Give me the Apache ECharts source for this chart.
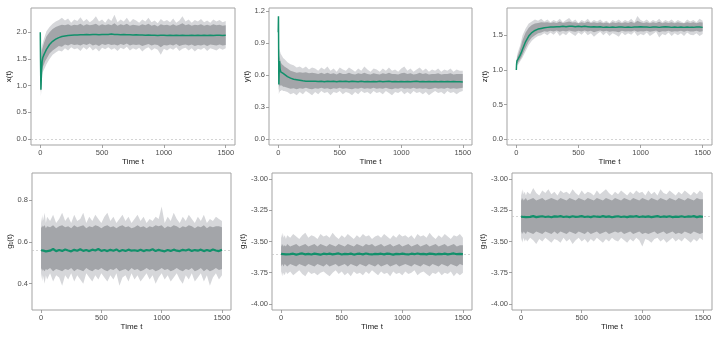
<!DOCTYPE html>
<html>
<head>
<meta charset="utf-8">
<script src="https://cdn.jsdelivr.net/npm/echarts@6/dist/echarts.min.js"></script>
<style>
html, body { margin: 0; padding: 0; background: #fff; }
#chart { width: 722px; height: 338px; }
</style>
</head>
<body>
<div id="chart"></div>
<script>
// time grid shared by every panel
const timeT = [0, 2, 5, 10, 15, 20, 30, 40,
  50, 75, 100, 125, 150, 175, 200, 225, 250, 275,
  300, 325, 350, 375, 400, 425, 450, 475, 500, 525,
  550, 575, 600, 625, 650, 675, 700, 725, 750, 775,
  800, 825, 850, 875, 900, 925, 950, 975, 1000, 1025,
  1050, 1075, 1100, 1125, 1150, 1175, 1200, 1225, 1250, 1275,
  1300, 1325, 1350, 1375, 1400, 1425, 1450, 1475, 1500]
const timeTicks = [0, 500, 1000, 1500]

// x(t)
const xMean = [2.0, 1.5, 0.92, 1.25, 1.45, 1.52, 1.58, 1.63,
  1.68, 1.77, 1.83, 1.87, 1.90, 1.92, 1.93, 1.94, 1.945, 1.95,
  1.95, 1.955, 1.955, 1.96, 1.955, 1.96, 1.96, 1.955, 1.96, 1.96,
  1.96, 1.965, 1.96, 1.96, 1.955, 1.96, 1.955, 1.955, 1.95, 1.955,
  1.95, 1.95, 1.945, 1.95, 1.945, 1.945, 1.94, 1.945, 1.945, 1.94,
  1.945, 1.94, 1.945, 1.94, 1.945, 1.94, 1.94, 1.945, 1.94, 1.945,
  1.94, 1.945, 1.94, 1.945, 1.94, 1.945, 1.945, 1.94, 1.945]
const xHi = [2.0, 1.8, 1.65, 1.7, 1.76, 1.8, 1.88, 1.95,
  2.02, 2.1, 2.16, 2.2, 2.23, 2.27, 2.22, 2.26, 2.18, 2.24,
  2.21, 2.28, 2.2, 2.25, 2.19, 2.23, 2.3, 2.2, 2.24, 2.18,
  2.26, 2.21, 2.33, 2.19, 2.24, 2.2, 2.27, 2.19, 2.25, 2.22,
  2.18, 2.24, 2.2, 2.27, 2.19, 2.22, 2.17, 2.25, 2.2, 2.23,
  2.19, 2.26, 2.18, 2.22, 2.3, 2.2, 2.24, 2.18, 2.23, 2.2,
  2.25, 2.19, 2.22, 2.18, 2.24, 2.2, 2.23, 2.19, 2.21]
const xLo = [1.98, 1.3, 0.8, 0.95, 1.2, 1.25, 1.3, 1.35,
  1.4, 1.5, 1.58, 1.62, 1.66, 1.64, 1.7, 1.66, 1.72, 1.68,
  1.7, 1.65, 1.72, 1.67, 1.73, 1.66, 1.7, 1.64, 1.71, 1.68,
  1.72, 1.67, 1.7, 1.65, 1.71, 1.68, 1.73, 1.66, 1.7, 1.67,
  1.71, 1.64, 1.69, 1.72, 1.66, 1.7, 1.67, 1.58, 1.69, 1.66,
  1.7, 1.67, 1.72, 1.65, 1.69, 1.71, 1.66, 1.7, 1.64, 1.69,
  1.67, 1.71, 1.65, 1.7, 1.68, 1.66, 1.7, 1.67, 1.7]
const xHiCore = [2.0, 1.7, 1.45, 1.6, 1.68, 1.72, 1.8, 1.86,
  1.92, 2.0, 2.06, 2.1, 2.12, 2.14, 2.13, 2.15, 2.12, 2.14,
  2.13, 2.16, 2.12, 2.15, 2.13, 2.14, 2.16, 2.12, 2.15, 2.13,
  2.15, 2.13, 2.17, 2.12, 2.15, 2.13, 2.16, 2.12, 2.14, 2.13,
  2.12, 2.15, 2.13, 2.16, 2.12, 2.14, 2.11, 2.15, 2.13, 2.14,
  2.12, 2.15, 2.12, 2.14, 2.17, 2.13, 2.15, 2.12, 2.14, 2.13,
  2.15, 2.12, 2.14, 2.12, 2.15, 2.13, 2.14, 2.12, 2.13]
const xLoCore = [1.99, 1.4, 0.88, 1.05, 1.3, 1.35, 1.4, 1.46,
  1.5, 1.6, 1.66, 1.7, 1.74, 1.73, 1.77, 1.75, 1.78, 1.76,
  1.77, 1.75, 1.78, 1.76, 1.79, 1.75, 1.77, 1.74, 1.78, 1.76,
  1.78, 1.76, 1.77, 1.75, 1.78, 1.76, 1.79, 1.75, 1.77, 1.76,
  1.77, 1.74, 1.76, 1.78, 1.75, 1.77, 1.76, 1.72, 1.76, 1.75,
  1.77, 1.75, 1.78, 1.74, 1.76, 1.77, 1.75, 1.77, 1.74, 1.76,
  1.75, 1.77, 1.74, 1.77, 1.76, 1.75, 1.77, 1.75, 1.76]

// y(t)
const yMean = [1.0, 1.15, 0.51, 0.73, 0.66, 0.63, 0.63, 0.615,
  0.605, 0.585, 0.57, 0.56, 0.555, 0.55, 0.545, 0.542, 0.54, 0.54,
  0.54, 0.538, 0.54, 0.537, 0.54, 0.538, 0.54, 0.536, 0.54, 0.538,
  0.54, 0.537, 0.54, 0.538, 0.536, 0.54, 0.537, 0.539, 0.536, 0.538,
  0.537, 0.54, 0.536, 0.538, 0.54, 0.537, 0.539, 0.536, 0.538, 0.537,
  0.539, 0.536, 0.538, 0.54, 0.537, 0.538, 0.536, 0.539, 0.537, 0.538,
  0.536, 0.538, 0.537, 0.539, 0.536, 0.538, 0.537, 0.536, 0.535]
const yHi = [1.02, 1.16, 0.75, 0.85, 0.82, 0.8, 0.78, 0.76,
  0.75, 0.72, 0.7, 0.69, 0.67, 0.68, 0.66, 0.68, 0.65, 0.67,
  0.66, 0.64, 0.67, 0.65, 0.68, 0.64, 0.66, 0.63, 0.67, 0.65,
  0.64, 0.67, 0.65, 0.63, 0.66, 0.64, 0.68, 0.65, 0.63, 0.66,
  0.65, 0.63, 0.66, 0.64, 0.67, 0.64, 0.65, 0.63, 0.66, 0.68,
  0.64, 0.66, 0.63, 0.65, 0.67, 0.64, 0.66, 0.63, 0.65, 0.64,
  0.66, 0.63, 0.65, 0.64, 0.66, 0.63, 0.65, 0.64, 0.64]
const yLo = [0.99, 1.0, 0.42, 0.44, 0.45, 0.45, 0.46, 0.45,
  0.45, 0.44, 0.42, 0.43, 0.41, 0.44, 0.42, 0.45, 0.43, 0.41,
  0.44, 0.42, 0.45, 0.43, 0.44, 0.41, 0.44, 0.43, 0.45, 0.42,
  0.44, 0.43, 0.41, 0.44, 0.42, 0.45, 0.43, 0.44, 0.42, 0.45,
  0.43, 0.44, 0.42, 0.45, 0.43, 0.41, 0.44, 0.43, 0.45, 0.42,
  0.44, 0.42, 0.45, 0.43, 0.44, 0.42, 0.44, 0.41, 0.43, 0.45,
  0.43, 0.44, 0.42, 0.45, 0.43, 0.44, 0.42, 0.44, 0.45]
const yHiCore = [1.01, 1.15, 0.65, 0.78, 0.75, 0.72, 0.7, 0.69,
  0.68, 0.66, 0.64, 0.63, 0.62, 0.625, 0.62, 0.625, 0.615, 0.62,
  0.615, 0.61, 0.62, 0.61, 0.62, 0.61, 0.615, 0.605, 0.62, 0.61,
  0.61, 0.62, 0.61, 0.605, 0.615, 0.61, 0.62, 0.61, 0.605, 0.615,
  0.61, 0.605, 0.615, 0.61, 0.62, 0.61, 0.61, 0.605, 0.615, 0.62,
  0.61, 0.615, 0.605, 0.61, 0.62, 0.61, 0.615, 0.605, 0.61, 0.61,
  0.615, 0.605, 0.61, 0.61, 0.615, 0.605, 0.61, 0.61, 0.61]
const yLoCore = [1.0, 1.05, 0.46, 0.5, 0.5, 0.5, 0.5, 0.49,
  0.49, 0.48, 0.47, 0.475, 0.465, 0.475, 0.47, 0.48, 0.47, 0.465,
  0.475, 0.47, 0.48, 0.47, 0.475, 0.465, 0.475, 0.47, 0.48, 0.47,
  0.475, 0.47, 0.465, 0.475, 0.47, 0.48, 0.47, 0.475, 0.47, 0.48,
  0.47, 0.475, 0.47, 0.48, 0.47, 0.465, 0.475, 0.47, 0.48, 0.47,
  0.475, 0.47, 0.48, 0.47, 0.475, 0.47, 0.475, 0.465, 0.47, 0.48,
  0.47, 0.475, 0.47, 0.48, 0.47, 0.475, 0.47, 0.475, 0.48]

// z(t)
const zMean = [1.0, 1.08, 1.13, 1.15, 1.16, 1.17, 1.21, 1.25,
  1.3, 1.41, 1.49, 1.54, 1.57, 1.59, 1.6, 1.61, 1.615, 1.62,
  1.62, 1.625, 1.625, 1.63, 1.625, 1.63, 1.63, 1.625, 1.63, 1.625,
  1.63, 1.625, 1.62, 1.625, 1.62, 1.625, 1.615, 1.62, 1.615, 1.62,
  1.615, 1.62, 1.62, 1.615, 1.62, 1.615, 1.62, 1.62, 1.625, 1.62,
  1.62, 1.615, 1.62, 1.62, 1.615, 1.62, 1.625, 1.62, 1.615, 1.62,
  1.615, 1.62, 1.615, 1.62, 1.615, 1.615, 1.62, 1.62, 1.615]
const zHi = [1.0, 1.12, 1.2, 1.24, 1.27, 1.3, 1.35, 1.42,
  1.5, 1.6, 1.67, 1.7, 1.73, 1.71, 1.74, 1.7, 1.73, 1.69,
  1.72, 1.7, 1.74, 1.69, 1.72, 1.75, 1.7, 1.73, 1.68, 1.72,
  1.7, 1.74, 1.69, 1.72, 1.7, 1.73, 1.69, 1.71, 1.68, 1.72,
  1.7, 1.73, 1.69, 1.72, 1.7, 1.74, 1.69, 1.78, 1.72, 1.7,
  1.73, 1.69, 1.72, 1.7, 1.74, 1.69, 1.72, 1.7, 1.73, 1.69,
  1.72, 1.7, 1.68, 1.73, 1.7, 1.72, 1.69, 1.74, 1.71]
const zLo = [1.0, 1.04, 1.06, 1.07, 1.08, 1.09, 1.12, 1.15,
  1.18, 1.27, 1.36, 1.42, 1.46, 1.49, 1.5, 1.53, 1.5, 1.54,
  1.51, 1.55, 1.49, 1.53, 1.5, 1.55, 1.52, 1.49, 1.54, 1.51,
  1.55, 1.5, 1.53, 1.48, 1.52, 1.55, 1.5, 1.54, 1.49, 1.53,
  1.51, 1.48, 1.54, 1.5, 1.53, 1.51, 1.55, 1.49, 1.52, 1.5,
  1.54, 1.49, 1.52, 1.55, 1.47, 1.52, 1.5, 1.54, 1.49, 1.53,
  1.5, 1.53, 1.49, 1.54, 1.51, 1.5, 1.53, 1.49, 1.52]
const zHiCore = [1.0, 1.1, 1.17, 1.2, 1.22, 1.25, 1.3, 1.36,
  1.43, 1.54, 1.61, 1.65, 1.67, 1.68, 1.69, 1.685, 1.69, 1.68,
  1.69, 1.68, 1.7, 1.68, 1.69, 1.7, 1.685, 1.69, 1.675, 1.69,
  1.68, 1.7, 1.68, 1.69, 1.68, 1.69, 1.675, 1.685, 1.67, 1.69,
  1.68, 1.69, 1.675, 1.69, 1.68, 1.695, 1.675, 1.71, 1.69, 1.68,
  1.69, 1.675, 1.69, 1.68, 1.695, 1.675, 1.69, 1.68, 1.69, 1.675,
  1.69, 1.68, 1.675, 1.69, 1.68, 1.69, 1.675, 1.69, 1.685]
const zLoCore = [1.0, 1.06, 1.09, 1.1, 1.11, 1.12, 1.15, 1.18,
  1.22, 1.32, 1.41, 1.47, 1.5, 1.53, 1.54, 1.56, 1.55, 1.565,
  1.555, 1.57, 1.55, 1.565, 1.555, 1.57, 1.56, 1.55, 1.565, 1.555,
  1.57, 1.555, 1.565, 1.545, 1.56, 1.57, 1.555, 1.565, 1.55, 1.56,
  1.555, 1.545, 1.565, 1.555, 1.56, 1.555, 1.57, 1.55, 1.56, 1.555,
  1.565, 1.55, 1.56, 1.57, 1.545, 1.56, 1.555, 1.565, 1.55, 1.56,
  1.555, 1.565, 1.55, 1.565, 1.555, 1.555, 1.565, 1.55, 1.56]

// g1(t)
const g1Mean = [0.56, 0.555, 0.562, 0.556, 0.565, 0.558, 0.562, 0.555,
  0.563, 0.558, 0.566, 0.556, 0.561, 0.557, 0.564, 0.559, 0.555, 0.562,
  0.558, 0.565, 0.557, 0.561, 0.556, 0.563, 0.559, 0.566, 0.557, 0.561,
  0.556, 0.562, 0.558, 0.564, 0.555, 0.561, 0.557, 0.563, 0.558, 0.56,
  0.557, 0.563, 0.556, 0.561, 0.559, 0.565, 0.556, 0.562, 0.558, 0.555,
  0.561, 0.557, 0.563, 0.558, 0.556, 0.562, 0.559, 0.564, 0.557, 0.561,
  0.558, 0.563, 0.556, 0.561, 0.557, 0.564, 0.559, 0.556, 0.562]
const g1Hi = [0.7, 0.72, 0.69, 0.73, 0.7, 0.71, 0.74, 0.69,
  0.72, 0.7, 0.73, 0.69, 0.71, 0.74, 0.7, 0.72, 0.69, 0.73,
  0.7, 0.71, 0.74, 0.69, 0.72, 0.7, 0.73, 0.71, 0.69, 0.72,
  0.74, 0.7, 0.72, 0.69, 0.71, 0.73, 0.7, 0.72, 0.69, 0.71,
  0.73, 0.7, 0.72, 0.69, 0.71, 0.7, 0.72, 0.71, 0.77, 0.69,
  0.72, 0.7, 0.74, 0.71, 0.69, 0.72, 0.7, 0.73, 0.71, 0.69,
  0.72, 0.7, 0.73, 0.69, 0.71, 0.7, 0.72, 0.71, 0.7]
const g1Lo = [0.44, 0.42, 0.45, 0.41, 0.44, 0.43, 0.4, 0.44,
  0.42, 0.45, 0.41, 0.44, 0.43, 0.39, 0.44, 0.42, 0.45, 0.41,
  0.44, 0.42, 0.4, 0.45, 0.43, 0.41, 0.44, 0.42, 0.45, 0.43,
  0.41, 0.44, 0.42, 0.45, 0.39, 0.43, 0.44, 0.41, 0.45, 0.42,
  0.44, 0.41, 0.43, 0.45, 0.42, 0.44, 0.4, 0.43, 0.45, 0.42,
  0.44, 0.41, 0.43, 0.45, 0.42, 0.4, 0.44, 0.42, 0.45, 0.41,
  0.43, 0.45, 0.41, 0.44, 0.39, 0.43, 0.45, 0.42, 0.44]
const g1HiCore = [0.67, 0.675, 0.665, 0.68, 0.67, 0.675, 0.68, 0.665,
  0.675, 0.67, 0.68, 0.665, 0.675, 0.68, 0.67, 0.675, 0.665, 0.68,
  0.67, 0.675, 0.68, 0.665, 0.675, 0.67, 0.68, 0.675, 0.665, 0.675,
  0.68, 0.67, 0.675, 0.665, 0.675, 0.68, 0.67, 0.675, 0.665, 0.67,
  0.68, 0.67, 0.675, 0.665, 0.675, 0.67, 0.68, 0.675, 0.68, 0.665,
  0.675, 0.67, 0.68, 0.675, 0.665, 0.675, 0.67, 0.68, 0.675, 0.665,
  0.675, 0.67, 0.68, 0.665, 0.675, 0.67, 0.675, 0.675, 0.67]
const g1LoCore = [0.47, 0.465, 0.475, 0.46, 0.47, 0.465, 0.46, 0.47,
  0.465, 0.475, 0.46, 0.47, 0.465, 0.46, 0.47, 0.465, 0.475, 0.46,
  0.47, 0.465, 0.46, 0.475, 0.465, 0.46, 0.47, 0.465, 0.475, 0.465,
  0.46, 0.47, 0.465, 0.475, 0.46, 0.465, 0.47, 0.46, 0.475, 0.465,
  0.47, 0.46, 0.465, 0.475, 0.465, 0.47, 0.46, 0.465, 0.475, 0.465,
  0.47, 0.46, 0.465, 0.475, 0.465, 0.46, 0.47, 0.465, 0.475, 0.46,
  0.465, 0.475, 0.46, 0.47, 0.46, 0.465, 0.475, 0.465, 0.47]

// g2(t)
const g2Mean = [-3.6, -3.605, -3.598, -3.603, -3.596, -3.602, -3.599, -3.604,
  -3.597, -3.602, -3.598, -3.605, -3.6, -3.596, -3.603, -3.599, -3.604, -3.597,
  -3.601, -3.606, -3.598, -3.602, -3.597, -3.603, -3.6, -3.596, -3.604, -3.599,
  -3.602, -3.597, -3.605, -3.6, -3.598, -3.603, -3.596, -3.601, -3.604, -3.599,
  -3.602, -3.598, -3.603, -3.597, -3.6, -3.605, -3.599, -3.602, -3.597, -3.601,
  -3.604, -3.598, -3.602, -3.596, -3.601, -3.599, -3.603, -3.597, -3.6, -3.604,
  -3.599, -3.602, -3.597, -3.603, -3.6, -3.596, -3.602, -3.599, -3.601]
const g2Hi = [-3.46, -3.44, -3.47, -3.45, -3.43, -3.47, -3.45, -3.48,
  -3.45, -3.47, -3.44, -3.46, -3.48, -3.45, -3.43, -3.47, -3.45, -3.46,
  -3.48, -3.44, -3.46, -3.45, -3.47, -3.43, -3.46, -3.48, -3.45, -3.47,
  -3.44, -3.46, -3.48, -3.45, -3.47, -3.44, -3.46, -3.45, -3.48, -3.46,
  -3.45, -3.47, -3.44, -3.46, -3.48, -3.45, -3.47, -3.44, -3.46, -3.45,
  -3.47, -3.45, -3.48, -3.44, -3.46, -3.45, -3.47, -3.43, -3.46, -3.48,
  -3.45, -3.47, -3.44, -3.46, -3.48, -3.45, -3.46, -3.44, -3.47]
const g2Lo = [-3.75, -3.77, -3.74, -3.76, -3.78, -3.75, -3.77, -3.74,
  -3.76, -3.74, -3.77, -3.75, -3.73, -3.76, -3.78, -3.74, -3.76, -3.75,
  -3.77, -3.75, -3.74, -3.76, -3.78, -3.75, -3.73, -3.76, -3.74, -3.77,
  -3.75, -3.78, -3.74, -3.76, -3.75, -3.77, -3.74, -3.76, -3.73, -3.75,
  -3.77, -3.74, -3.76, -3.75, -3.78, -3.74, -3.76, -3.75, -3.77, -3.74,
  -3.76, -3.75, -3.73, -3.77, -3.75, -3.74, -3.76, -3.78, -3.75, -3.76,
  -3.74, -3.77, -3.75, -3.76, -3.74, -3.78, -3.75, -3.77, -3.75]
const g2HiCore = [-3.53, -3.52, -3.54, -3.53, -3.52, -3.54, -3.53, -3.54,
  -3.52, -3.54, -3.53, -3.52, -3.54, -3.53, -3.52, -3.54, -3.53, -3.52,
  -3.54, -3.52, -3.53, -3.54, -3.52, -3.53, -3.54, -3.52, -3.53, -3.54,
  -3.52, -3.53, -3.54, -3.52, -3.53, -3.54, -3.52, -3.53, -3.52, -3.54,
  -3.53, -3.52, -3.54, -3.53, -3.52, -3.54, -3.53, -3.52, -3.54, -3.53,
  -3.52, -3.54, -3.53, -3.52, -3.54, -3.53, -3.52, -3.54, -3.53, -3.52,
  -3.54, -3.53, -3.52, -3.54, -3.53, -3.52, -3.54, -3.53, -3.53]
const g2LoCore = [-3.68, -3.69, -3.7, -3.68, -3.69, -3.7, -3.68, -3.69,
  -3.7, -3.68, -3.69, -3.7, -3.68, -3.69, -3.7, -3.68, -3.69, -3.7,
  -3.68, -3.69, -3.7, -3.68, -3.7, -3.69, -3.68, -3.7, -3.69, -3.68,
  -3.7, -3.68, -3.69, -3.7, -3.68, -3.69, -3.7, -3.68, -3.69, -3.7,
  -3.68, -3.7, -3.69, -3.68, -3.7, -3.69, -3.68, -3.7, -3.69, -3.68,
  -3.69, -3.7, -3.68, -3.69, -3.7, -3.68, -3.69, -3.7, -3.68, -3.69,
  -3.7, -3.68, -3.69, -3.7, -3.68, -3.69, -3.7, -3.68, -3.69]

// g3(t)
const g3Mean = [-3.3, -3.304, -3.297, -3.302, -3.296, -3.303, -3.299, -3.305,
  -3.298, -3.302, -3.296, -3.304, -3.3, -3.297, -3.303, -3.299, -3.305, -3.298,
  -3.301, -3.296, -3.303, -3.299, -3.304, -3.297, -3.302, -3.3, -3.296, -3.303,
  -3.299, -3.304, -3.297, -3.301, -3.303, -3.296, -3.302, -3.298, -3.305, -3.3,
  -3.297, -3.303, -3.299, -3.304, -3.298, -3.301, -3.296, -3.303, -3.299, -3.302,
  -3.298, -3.304, -3.3, -3.296, -3.303, -3.299, -3.302, -3.297, -3.304, -3.3,
  -3.302, -3.297, -3.303, -3.299, -3.301, -3.296, -3.304, -3.298, -3.302]
const g3Hi = [-3.12, -3.09, -3.13, -3.1, -3.08, -3.12, -3.1, -3.13,
  -3.1, -3.12, -3.07, -3.11, -3.13, -3.09, -3.11, -3.08, -3.12, -3.1,
  -3.13, -3.09, -3.11, -3.1, -3.12, -3.08, -3.11, -3.13, -3.09, -3.12,
  -3.1, -3.11, -3.13, -3.09, -3.12, -3.1, -3.08, -3.11, -3.13, -3.1,
  -3.12, -3.09, -3.11, -3.13, -3.1, -3.12, -3.09, -3.11, -3.1, -3.13,
  -3.09, -3.12, -3.1, -3.13, -3.08, -3.11, -3.12, -3.09, -3.11, -3.13,
  -3.1, -3.12, -3.09, -3.11, -3.13, -3.1, -3.12, -3.09, -3.11]
const g3Lo = [-3.48, -3.5, -3.47, -3.51, -3.49, -3.47, -3.5, -3.48,
  -3.5, -3.47, -3.49, -3.52, -3.48, -3.5, -3.47, -3.49, -3.51, -3.48,
  -3.49, -3.51, -3.47, -3.5, -3.48, -3.52, -3.49, -3.47, -3.5, -3.48,
  -3.51, -3.48, -3.5, -3.47, -3.49, -3.51, -3.48, -3.5, -3.47, -3.49,
  -3.5, -3.47, -3.49, -3.51, -3.48, -3.5, -3.47, -3.49, -3.54, -3.48,
  -3.49, -3.51, -3.48, -3.47, -3.5, -3.48, -3.51, -3.49, -3.47, -3.5,
  -3.48, -3.5, -3.47, -3.49, -3.51, -3.48, -3.5, -3.47, -3.49]
const g3HiCore = [-3.16, -3.15, -3.17, -3.16, -3.15, -3.17, -3.16, -3.15,
  -3.17, -3.16, -3.15, -3.17, -3.16, -3.15, -3.17, -3.16, -3.15, -3.16,
  -3.17, -3.15, -3.16, -3.17, -3.15, -3.16, -3.17, -3.15, -3.16, -3.17,
  -3.15, -3.16, -3.17, -3.15, -3.16, -3.17, -3.15, -3.16, -3.17, -3.15,
  -3.16, -3.17, -3.15, -3.16, -3.17, -3.15, -3.16, -3.17, -3.15, -3.16,
  -3.17, -3.15, -3.16, -3.17, -3.15, -3.16, -3.17, -3.15, -3.16, -3.17,
  -3.15, -3.16, -3.17, -3.15, -3.16, -3.17, -3.15, -3.16, -3.16]
const g3LoCore = [-3.43, -3.44, -3.42, -3.43, -3.44, -3.42, -3.43, -3.44,
  -3.42, -3.43, -3.44, -3.42, -3.43, -3.44, -3.42, -3.43, -3.44, -3.42,
  -3.44, -3.42, -3.43, -3.44, -3.42, -3.43, -3.44, -3.42, -3.43, -3.44,
  -3.42, -3.44, -3.43, -3.42, -3.44, -3.43, -3.42, -3.44, -3.43, -3.42,
  -3.43, -3.42, -3.44, -3.43, -3.42, -3.44, -3.43, -3.42, -3.44, -3.43,
  -3.44, -3.43, -3.42, -3.44, -3.43, -3.42, -3.44, -3.43, -3.42, -3.44,
  -3.43, -3.44, -3.42, -3.43, -3.44, -3.42, -3.43, -3.44, -3.43]

// y tick values per panel
const xTicks = [0, 0.5, 1.0, 1.5, 2.0]
const yTicks = [0, 0.3, 0.6, 0.9, 1.2]
const zTicks = [0, 0.5, 1.0, 1.5]
const g1Ticks = [0.4, 0.6, 0.8]
const gTicks = [-4.0, -3.75, -3.5, -3.25, -3.0]

const panels = [
  { name: 'x(t)', mean: xMean, hi: xHi, lo: xLo, hi2: xHiCore, lo2: xLoCore, ref: 0, ticks: xTicks, dec: 1,
    min: -0.115, max: 2.455, box: [31, 8, 204, 137], gap: 16, lw: 1.5 },
  { name: 'y(t)', mean: yMean, hi: yHi, lo: yLo, hi2: yHiCore, lo2: yLoCore, ref: 0, ticks: yTicks, dec: 1,
    min: -0.057, max: 1.228, box: [269, 8, 203, 137], gap: 15, lw: 1.5 },
  { name: 'z(t)', mean: zMean, hi: zHi, lo: zLo, hi2: zHiCore, lo2: zLoCore, ref: 0, ticks: zTicks, dec: 1,
    min: -0.085, max: 1.895, box: [507, 8, 205, 137], gap: 15, lw: 1.5 },
  { name: 'g\u2081(t)', mean: g1Mean, hi: g1Hi, lo: g1Lo, hi2: g1HiCore, lo2: g1LoCore, ref: 0.56, ticks: g1Ticks, dec: 1,
    min: 0.274, max: 0.93, box: [32, 173, 199, 137], gap: 17, lw: 2.2 },
  { name: 'g\u2082(t)', mean: g2Mean, hi: g2Hi, lo: g2Lo, hi2: g2HiCore, lo2: g2LoCore, ref: -3.6, ticks: gTicks, dec: 2,
    min: -4.05, max: -2.95, box: [272, 173, 200, 137], gap: 23, lw: 2.2 },
  { name: 'g\u2083(t)', mean: g3Mean, hi: g3Hi, lo: g3Lo, hi2: g3HiCore, lo2: g3LoCore, ref: -3.3, ticks: gTicks, dec: 2,
    min: -4.05, max: -2.95, box: [512, 173, 200, 137], gap: 23, lw: 2.2 }
]

const font = '"Liberation Sans", Arial, sans-serif'
const green = '#12906b'

function pairs(vals) {
  return timeT.map((t, k) => [t, vals[k]])
}

// band between lo and hi, drawn as one polygon through the axis scales
function bandSeries(i, lo, hi, color, z) {
  return {
    type: 'custom', xAxisIndex: i, yAxisIndex: i, silent: true, animation: false, z: z,
    data: timeT.map((t, k) => [t, lo[k], hi[k]]),
    encode: { x: 0, y: [1, 2] },
    renderItem(params, api) {
      if (params.dataIndex !== 0) return null
      const pts = []
      for (let k = 0; k < timeT.length; k++) pts.push(api.coord([api.value(0, k), api.value(2, k)]))
      for (let k = timeT.length - 1; k >= 0; k--) pts.push(api.coord([api.value(0, k), api.value(1, k)]))
      return { type: 'polygon', shape: { points: pts }, style: { fill: color } }
    }
  }
}

const tickStyle = { show: true, inside: false, length: 3, lineStyle: { color: '#8c8c8c', width: 0.8 } }
const grid = [], xAxis = [], yAxis = [], series = []

panels.forEach((p, i) => {
  grid.push({
    left: p.box[0], top: p.box[1], width: p.box[2], height: p.box[3],
    show: true, borderColor: '#a3a3a3', borderWidth: 1, backgroundColor: 'transparent'
  })
  xAxis.push({
    gridIndex: i, type: 'value', min: -75, max: 1575, position: 'bottom',
    name: 'Time t', nameLocation: 'middle', nameGap: 12,
    nameTextStyle: { fontFamily: font, fontSize: 8, color: '#1a1a1a' },
    splitLine: { show: false },
    axisLine: { show: false, onZero: false },
    axisTick: Object.assign({ customValues: timeTicks }, tickStyle),
    axisLabel: { customValues: timeTicks, margin: 4, fontFamily: font, fontSize: 7.5, color: '#4d4d4d',
      formatter: v => String(v) }
  })
  yAxis.push({
    gridIndex: i, type: 'value', min: p.min, max: p.max, position: 'left',
    name: p.name, nameLocation: 'middle', nameGap: p.gap, nameRotate: 90,
    nameTextStyle: { fontFamily: font, fontSize: 8, color: '#1a1a1a' },
    splitLine: { show: false },
    axisLine: { show: false, onZero: false },
    axisTick: Object.assign({ customValues: p.ticks }, tickStyle),
    axisLabel: {
      customValues: p.ticks, margin: 4, fontFamily: font, fontSize: 7.5, color: '#4d4d4d',
      formatter: v => v.toFixed(p.dec)
    }
  })
  // dashed reference line, kept underneath the bands
  series.push({
    type: 'line', xAxisIndex: i, yAxisIndex: i, data: [], silent: true, animation: false, z: 1,
    markLine: {
      z: 1, silent: true, symbol: 'none', label: { show: false }, animation: false,
      lineStyle: { color: '#c2c2c2', width: 0.7, type: [2, 2] },
      data: [{ yAxis: p.ref }]
    }
  })
  series.push(bandSeries(i, p.lo, p.hi, '#d6d7da', 2))
  series.push(bandSeries(i, p.lo2, p.hi2, '#a3a5a9', 3))
  series.push({
    type: 'line', xAxisIndex: i, yAxisIndex: i, symbol: 'none', silent: true, animation: false,
    data: pairs(p.mean), lineStyle: { color: green, width: p.lw }, z: 4
  })
})

const myChart = echarts.init(document.getElementById('chart'), null, { renderer: 'canvas' })
myChart.setOption({
  animation: false,
  backgroundColor: '#fff',
  grid: grid,
  xAxis: xAxis,
  yAxis: yAxis,
  series: series
})
</script>
</body>
</html>
